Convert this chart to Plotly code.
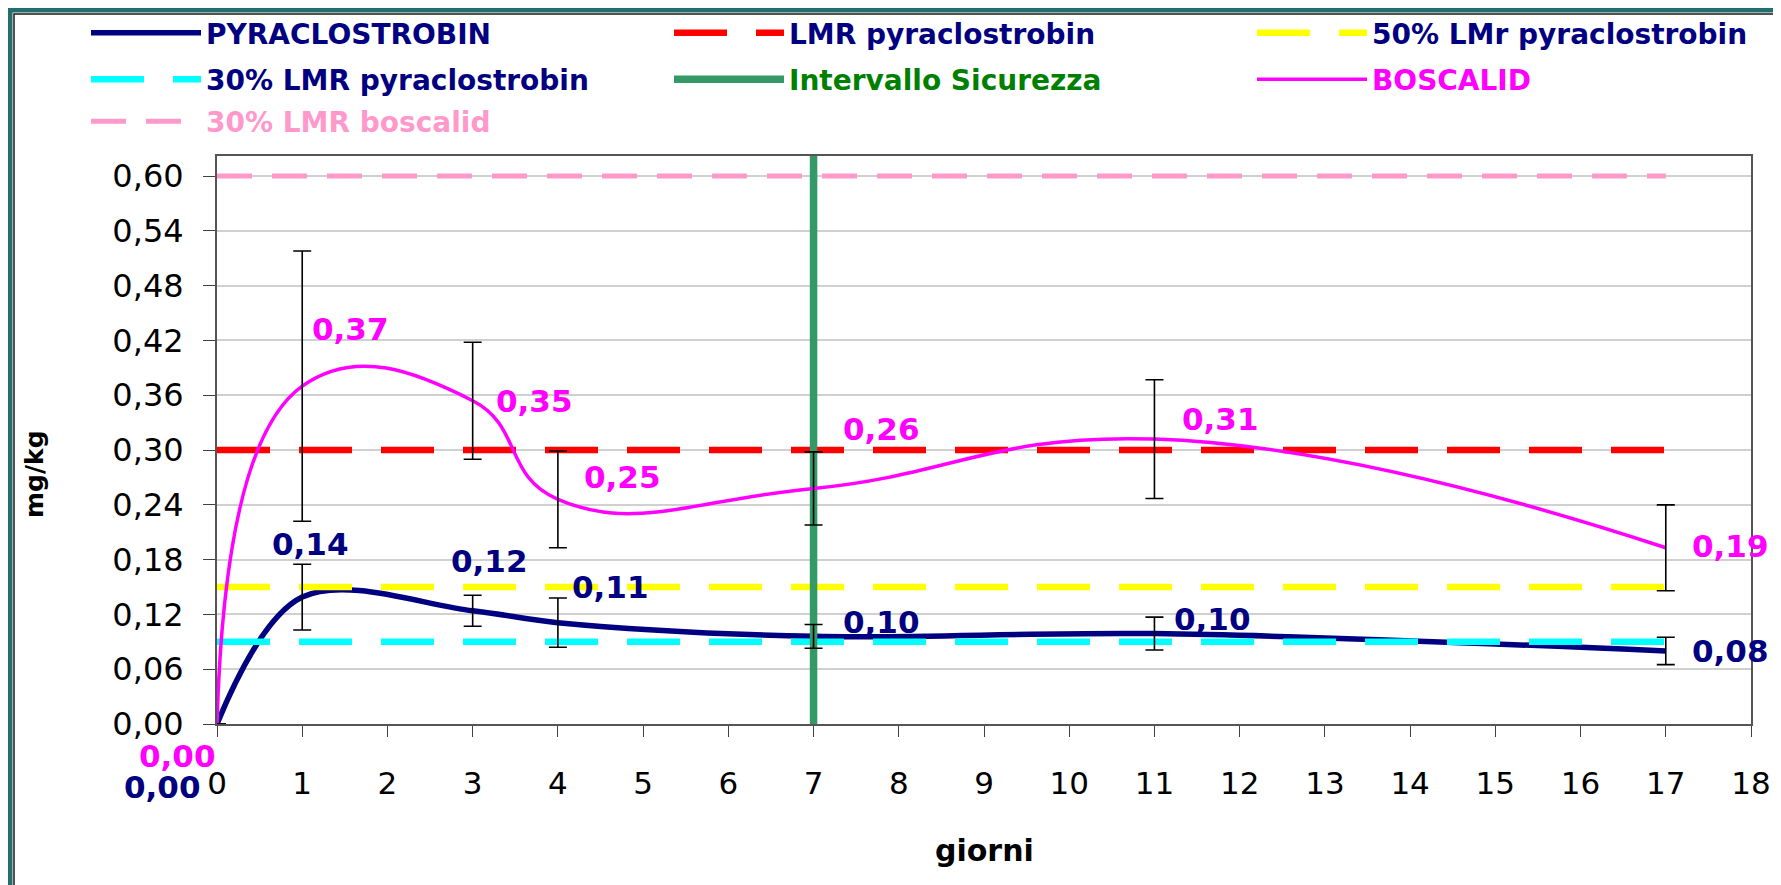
import plotly.graph_objects as go

# dati (mg/kg)
giorni = [0, 1, 3, 4, 7, 11, 17]
pyraclostrobin = [0.0, 0.139, 0.124, 0.111, 0.096, 0.099, 0.080]
pyraclostrobin_err = [None, 0.036, 0.017, 0.027, 0.013, 0.018, 0.015]
boscalid = [0.0, 0.370, 0.354, 0.246, 0.258, 0.312, 0.193]
boscalid_err = [None, 0.148, 0.064, 0.053, 0.040, 0.065, 0.047]

# limiti orizzontali
soglie_x = [0, 17]
lmr_pyraclostrobin = [0.30, 0.30]
lmr50_pyraclostrobin = [0.15, 0.15]
lmr30_pyraclostrobin = [0.09, 0.09]
lmr30_boscalid = [0.60, 0.60]

# intervallo di sicurezza
intervallo_x = [7, 7]
intervallo_y = [0, 0.622]

NAVY = '#000080'
MAGENTA = '#FF00FF'
GREEN = '#339966'
PINK = '#FF99CC'
FONT = 'DejaVu Sans'

W, H = 1781, 885
L, R, T, B = 209, 38, 148, 169
PW, PH = W - L - R, H - T - B

# spostamenti etichette (pixel)
bosc_shift = [(-40, -32), (48, 57), (62, 0), (65, 22), (68, 59), (66, 20), (65, 2)]
pyra_shift = [(-55, -63), (8, 53), (17, 50), (53, 36), (68, 14), (58, 15), (65, 0)]


def lab(name, color):
    return "<span style='color:%s'>%s</span>" % (color, name)


def px(x):
    return (x - L) / PW


def py(y):
    return (H - B - y) / PH


fig = go.Figure()

fig.add_trace(go.Scatter(x=giorni, y=pyraclostrobin, mode='lines', name=lab('PYRACLOSTROBIN', NAVY),
                         line=dict(color=NAVY, width=5.5, shape='spline', smoothing=1), legend='legend'))
fig.add_trace(go.Scatter(x=soglie_x, y=lmr_pyraclostrobin, mode='lines', name=lab('LMR pyraclostrobin', NAVY),
                         line=dict(color='#FF0000', width=6.5, dash='53px,29px'), legend='legend'))
fig.add_trace(go.Scatter(x=soglie_x, y=lmr50_pyraclostrobin, mode='lines',
                         name=lab('50% LMr pyraclostrobin', NAVY), legendwidth=380,
                         line=dict(color='#FFFF00', width=6.5, dash='53px,29px'), legend='legend'))
fig.add_trace(go.Scatter(x=soglie_x, y=lmr30_pyraclostrobin, mode='lines',
                         name=lab('30% LMR pyraclostrobin', NAVY),
                         line=dict(color='#00FFFF', width=6.5, dash='53px,29px'), legend='legend2'))
fig.add_trace(go.Scatter(x=intervallo_x, y=intervallo_y, mode='lines', name=lab('Intervallo Sicurezza', '#008000'),
                         line=dict(color=GREEN, width=7.5), legend='legend2'))
fig.add_trace(go.Scatter(x=giorni, y=boscalid, mode='lines', name=lab('BOSCALID', MAGENTA), legendwidth=380,
                         line=dict(color=MAGENTA, width=3.5, shape='spline', smoothing=1.3), legend='legend2'))
fig.add_trace(go.Scatter(x=soglie_x, y=lmr30_boscalid, mode='lines', name=lab('30% LMR boscalid', PINK),
                         legendwidth=380,
                         line=dict(color=PINK, width=5, dash='35px,20px'), legend='legend3'))

# barre di errore sopra tutto
for vals, errs in [(pyraclostrobin, pyraclostrobin_err), (boscalid, boscalid_err)]:
    fig.add_trace(go.Scatter(x=giorni, y=vals, mode='markers', showlegend=False, hoverinfo='skip',
                             marker=dict(size=1, opacity=0),
                             error_y=dict(type='data', array=errs, visible=True, color='black',
                                          thickness=1.6, width=9)))

# etichette dei valori
for vals, shifts, color in [(boscalid, bosc_shift, MAGENTA), (pyraclostrobin, pyra_shift, NAVY)]:
    for x, v, (dx, dy) in zip(giorni, vals, shifts):
        fig.add_annotation(x=x, y=v, text=('%.2f' % v).replace('.', ','), showarrow=False,
                           xshift=dx, yshift=dy,
                           font=dict(family=FONT, size=31, color=color, weight='bold'))

# titoli degli assi
fig.add_annotation(xref='paper', yref='paper', x=px(26), y=py(466), text='mg/kg', textangle=-90,
                   xanchor='center', yanchor='middle', showarrow=False,
                   font=dict(family=FONT, size=25, color='black', weight='bold'))
fig.add_annotation(xref='paper', yref='paper', x=0.5, y=py(842), text='giorni',
                   xanchor='center', yanchor='middle', showarrow=False,
                   font=dict(family=FONT, size=30, color='black', weight='bold'))

leg = dict(orientation='h', xanchor='left', yanchor='middle', x=px(78),
           entrywidth=458, entrywidthmode='pixels', itemwidth=110,
           bgcolor='rgba(0,0,0,0)', traceorder='normal',
           font=dict(family=FONT, size=28, color=NAVY, weight='bold'))

fig.update_layout(
    width=W, height=H,
    margin=dict(l=L, r=R, t=T, b=B, autoexpand=False),
    paper_bgcolor='white', plot_bgcolor='white',
    separators=', ',
    showlegend=True,
    legend=dict(leg, y=py(25)),
    legend2=dict(leg, y=py(71.5)),
    legend3=dict(leg, y=py(113.5)),
    shapes=[
        dict(type='rect', xref='paper', yref='paper',
             x0=px(2), x1=px(1779), y0=py(883), y1=py(2),
             line=dict(color='#236E6E', width=5)),
        dict(type='rect', xref='paper', yref='paper',
             x0=px(6), x1=px(1775), y0=py(879), y1=py(6),
             line=dict(color='#1A1A1A', width=1.5)),
    ],
)

fig.update_xaxes(range=[0, 18], tick0=0, dtick=1, ticks='outside', ticklen=11, tickcolor='#404040',
                 showgrid=False, zeroline=False, showline=True, linecolor='#555555', linewidth=2, mirror=True,
                 automargin=False, ticklabelstandoff=20,
                 tickfont=dict(family=FONT, size=31, color='black'))
fig.update_yaxes(range=[0, 0.622], tick0=0, dtick=0.06, tickformat='.2f', ticks='outside', ticklen=12,
                 tickcolor='#404040', showgrid=True, gridcolor='#D0D0D0', gridwidth=1.5, zeroline=False,
                 showline=True, linecolor='#555555', linewidth=2, mirror=True,
                 automargin=False, ticklabelstandoff=13,
                 tickfont=dict(family=FONT, size=32, color='black'))

fig.write_html("out.html")
